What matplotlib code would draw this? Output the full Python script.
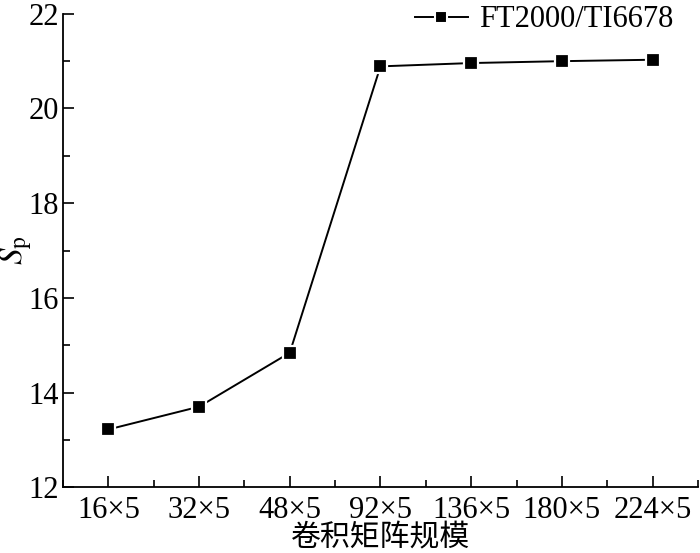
import matplotlib
matplotlib.use("Agg")
import matplotlib.pyplot as plt
from matplotlib.ticker import MultipleLocator, FixedLocator

categories = ["16×5", "32×5", "48×5", "92×5", "136×5", "180×5", "224×5"]
sp_values = [13.22, 13.70, 14.84, 20.89, 20.96, 21.00, 21.03]
series_name = "FT2000/TI6678"

plt.rcParams['font.family'] = ['Liberation Serif', 'Noto Sans CJK SC']
plt.rcParams['mathtext.fontset'] = 'stix'

fig = plt.figure(figsize=(7.0, 5.53), dpi=100)
ax = fig.add_axes([0.09, 0.119, 0.907, 0.856])

x = list(range(len(categories)))
ax.plot(x, sp_values, color='black', lw=1.4, zorder=2)
ax.plot(x, sp_values, ls='none', marker='s', ms=10, mfc='black', mec='white', mew=1.6, zorder=3)
# legend proxy
ax.plot([], [], color='black', lw=1.4, marker='s', ms=8.5, mfc='black', mec='white', mew=1.5,
        label=series_name)

ax.set_xlim(-0.5, 6.5)
ax.set_ylim(12, 22)
ax.set_xticks(x)
ax.set_xticklabels(categories)
ax.xaxis.set_minor_locator(FixedLocator([i + 0.5 for i in range(-1, 7)]))
ax.yaxis.set_major_locator(MultipleLocator(2))
ax.yaxis.set_minor_locator(MultipleLocator(1))

for s in ['top', 'right']:
    ax.spines[s].set_visible(False)
for s in ['left', 'bottom']:
    ax.spines[s].set_linewidth(1.3)

ax.tick_params(axis='both', which='major', direction='in', length=8, width=1.2, labelsize=22)
ax.tick_params(axis='x', which='major', pad=6)
ax.tick_params(axis='y', which='major', pad=3)
ax.tick_params(axis='both', which='minor', direction='in', length=5, width=1.2)

ax.set_xlabel("卷积矩阵规模", fontsize=21.5, labelpad=0)
ax.set_ylabel(r"$S_{\mathrm{p}}$", fontsize=24)
ax.yaxis.set_label_coords(-0.045, 0.5)

leg = ax.legend(loc='upper right', bbox_to_anchor=(0.985, 1.05), frameon=False,
                fontsize=22, handlelength=1.75, handletextpad=0.35, borderpad=0)

fig.savefig("out.png", dpi=100)
